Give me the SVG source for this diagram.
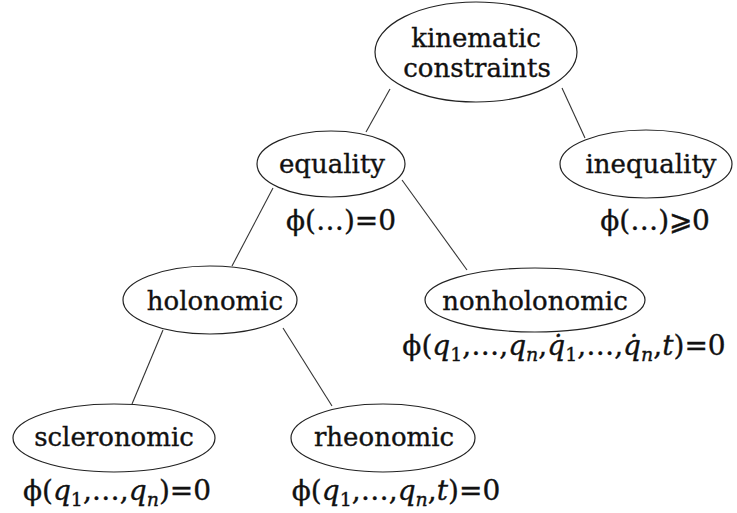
<svg xmlns="http://www.w3.org/2000/svg" width="737" height="513" viewBox="0 0 737 513">
<style>
.n ellipse{fill:#fff;stroke:#222;stroke-width:1.2}
.n text,.f{font-family:"DejaVu Serif","Liberation Serif",serif;font-size:26px;fill:#111;stroke:#111;stroke-width:0.35;text-anchor:middle}
.f{font-size:28px}
.i{font-style:italic}
.s{font-size:19px}
#edges line{stroke:#333;stroke-width:1.1}
</style>
<rect width="737" height="513" fill="#fff"/>
<g id="edges">
<line x1="390" y1="89" x2="366" y2="132"/>
<line x1="562" y1="88" x2="585" y2="138"/>
<line x1="273" y1="188" x2="232" y2="266"/>
<line x1="402" y1="180" x2="467" y2="270"/>
<line x1="163" y1="330" x2="132" y2="404"/>
<line x1="283" y1="328" x2="332" y2="406"/>
</g>
<g id="root" class="n">
<ellipse cx="476" cy="52" rx="101" ry="50"/>
<text x="476" y="47">kinematic</text>
<text x="477" y="77">constraints</text>
</g>
<g id="equality" class="n">
<ellipse cx="331" cy="164" rx="74" ry="33"/>
<text x="332" y="173">equality</text>
</g>
<text class="f" x="341" y="230">ϕ(…)=0</text>
<g id="inequality" class="n">
<ellipse cx="646" cy="164" rx="86" ry="34"/>
<text x="651" y="173">inequality</text>
</g>
<text class="f" x="655" y="230">ϕ(…)⩾0</text>
<g id="holonomic" class="n">
<ellipse cx="210" cy="300" rx="87" ry="34"/>
<text x="215" y="310">holonomic</text>
</g>
<g id="nonholonomic" class="n">
<ellipse cx="535" cy="300" rx="110" ry="32"/>
<text x="535" y="310">nonholonomic</text>
</g>
<text class="f" x="564" y="355">ϕ(<tspan class="i">q</tspan><tspan class="s" dy="6">1</tspan><tspan dy="-6">,…,</tspan><tspan class="i">q</tspan><tspan class="s i" dy="6">n</tspan><tspan dy="-6">,</tspan><tspan class="i">q̇</tspan><tspan class="s" dy="6">1</tspan><tspan dy="-6">,…,</tspan><tspan class="i">q̇</tspan><tspan class="s i" dy="6">n</tspan><tspan dy="-6">,</tspan><tspan class="i">t</tspan>)=0</text>
<g id="scleronomic" class="n">
<ellipse cx="114" cy="438" rx="101" ry="34"/>
<text x="114" y="446">scleronomic</text>
</g>
<text class="f" x="117" y="500">ϕ(<tspan class="i">q</tspan><tspan class="s" dy="6">1</tspan><tspan dy="-6">,…,</tspan><tspan class="i">q</tspan><tspan class="s i" dy="6">n</tspan><tspan dy="-6">)=0</tspan></text>
<g id="rheonomic" class="n">
<ellipse cx="383" cy="438" rx="92" ry="34"/>
<text x="384" y="446">rheonomic</text>
</g>
<text class="f" x="396" y="500">ϕ(<tspan class="i">q</tspan><tspan class="s" dy="6">1</tspan><tspan dy="-6">,…,</tspan><tspan class="i">q</tspan><tspan class="s i" dy="6">n</tspan><tspan dy="-6">,</tspan><tspan class="i">t</tspan>)=0</text>
</svg>
